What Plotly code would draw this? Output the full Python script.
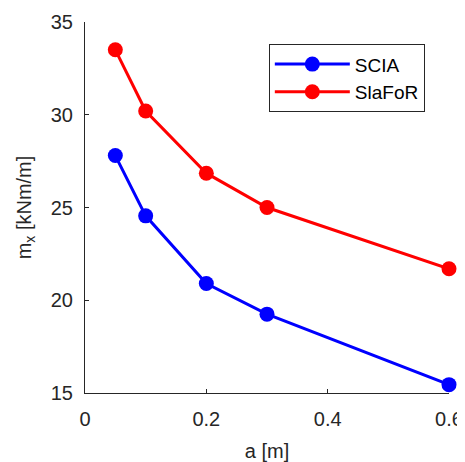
import plotly.graph_objects as go

a_vals = [0.05, 0.1, 0.2, 0.3, 0.6]
scia = [27.8, 24.55, 20.9, 19.25, 15.45]
slafor = [33.5, 30.2, 26.85, 25.0, 21.7]
x_ticks = [0, 0.2, 0.4, 0.6]
x_tick_labels = ["0", "0.2", "0.4", "0.6"]
y_ticks = [15, 20, 25, 30, 35]

fig = go.Figure()
fig.add_trace(go.Scatter(x=a_vals, y=scia, mode="lines+markers", name="SCIA",
                         line=dict(color="#0000FF", width=3),
                         marker=dict(color="#0000FF", size=15), cliponaxis=False))
fig.add_trace(go.Scatter(x=a_vals, y=slafor, mode="lines+markers", name="SlaFoR",
                         line=dict(color="#FF0000", width=3),
                         marker=dict(color="#FF0000", size=15), cliponaxis=False))

axis_font = dict(family="Liberation Sans, Arial, sans-serif", size=20, color="#262626")
# page body has an 8px margin, so the figure is 8px smaller and shifted
fig.update_layout(
    width=457, height=454,
    margin=dict(l=77, r=16, t=14, b=69, autoexpand=False),
    plot_bgcolor="white", paper_bgcolor="white",
    font=dict(family="Liberation Sans, Arial, sans-serif", color="#262626"),
    xaxis=dict(range=[0, 0.6], tickvals=x_ticks, ticktext=x_tick_labels,
               showgrid=False, zeroline=False, showline=True, linecolor="#262626",
               linewidth=1, ticks="inside", ticklen=4, tickcolor="#262626",
               tickfont=axis_font, automargin=False, ticklabelstandoff=8,
               title=dict(text="a [m]", font=dict(size=20, color="#262626"), standoff=14)),
    yaxis=dict(range=[15, 35], tickvals=y_ticks,
               showgrid=False, zeroline=False, showline=True, linecolor="#262626",
               linewidth=1, ticks="inside", ticklen=4, tickcolor="#262626",
               tickfont=axis_font, automargin=False, ticklabelstandoff=7,
               title=dict(text="m<sub>x</sub> [kNm/m]", font=dict(size=20, color="#262626"), standoff=13)),
    legend=dict(x=0.505, y=0.94, xanchor="left", yanchor="top",
                bordercolor="#262626", borderwidth=1, bgcolor="white",
                font=dict(size=19, color="#000000"), itemwidth=75,
                tracegroupgap=0),
    showlegend=True,
)
fig.write_html("out.html",
               post_script="document.documentElement.style.overflow='hidden';document.body.style.overflow='hidden';")
